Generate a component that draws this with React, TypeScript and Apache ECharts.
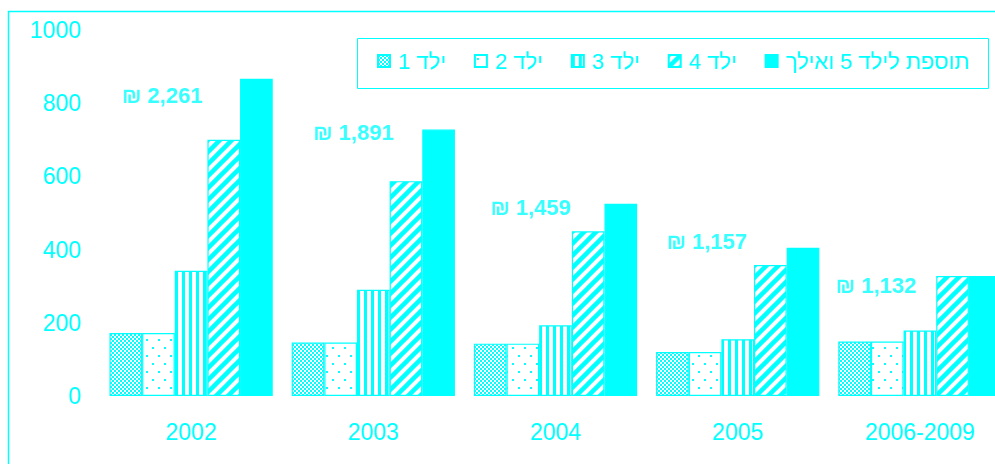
import React, { useEffect, useRef } from "react";
import * as echarts from "echarts";

const categories = ["2002", "2003", "2004", "2005", "2006-2009"];
const seriesNames = ["ילד 1", "ילד 2", "ילד 3", "ילד 4", "תוספת לילד 5 ואילך"];
const child1 = [172, 146, 143, 120, 149];
const child2 = [172, 146, 143, 120, 149];
const child3 = [342, 290, 193, 155, 179];
const child4 = [700, 587, 450, 358, 328];
const child5 = [867, 728, 525, 405, 328];
const totals = [2261, 1891, 1459, 1157, 1132];
// vertical anchor (in axis units) of the total annotations
const totalLabelLevel = [822, 719, 514, 423, 303];
// horizontal shift (px) of each total annotation from its category centre
const totalLabelShift = [-29, -20, -25, -31, -44];
const yTicks = { min: 0, max: 1000, interval: 200 };

const CYAN = "#00ffff";

function makeCanvas(w: number, h: number, draw: (c: CanvasRenderingContext2D) => void) {
  const cv = document.createElement("canvas");
  cv.width = w;
  cv.height = h;
  const ctx = cv.getContext("2d")!;
  ctx.fillStyle = "#ffffff";
  ctx.fillRect(0, 0, w, h);
  draw(ctx);
  return cv;
}

function patterns() {
  const checker = makeCanvas(4, 4, (c) => {
    c.fillStyle = CYAN;
    c.fillRect(0, 0, 2, 2);
    c.fillRect(2, 2, 2, 2);
  });
  const dots = makeCanvas(12, 16, (c) => {
    c.fillStyle = CYAN;
    c.fillRect(2, 3, 2, 2);
    c.fillRect(8, 11, 2, 2);
  });
  const vstripes = makeCanvas(7, 2, (c) => {
    c.fillStyle = CYAN;
    c.fillRect(0, 0, 3, 2);
  });
  const diag = makeCanvas(12, 12, (c) => {
    c.strokeStyle = CYAN;
    c.lineWidth = 4.5;
    for (let k = -12; k <= 12; k += 12) {
      c.beginPath();
      c.moveTo(k - 2, 14);
      c.lineTo(k + 14, -2);
      c.stroke();
    }
  });
  return [
    { image: checker, repeat: "repeat" },
    { image: dots, repeat: "repeat" },
    { image: vstripes, repeat: "repeat" },
    { image: diag, repeat: "repeat" },
    CYAN,
  ];
}

export default function App() {
  const ref = useRef<HTMLDivElement>(null);
  useEffect(() => {
    document.body.style.margin = "0";
    document.body.style.overflow = "hidden";
    const chart = echarts.init(ref.current!, null, { renderer: "svg" });
    const fills = patterns();
    const values = [child1, child2, child3, child4, child5];
    const barSeries = values.map((v, i) => ({
      name: seriesNames[i],
      type: "bar",
      data: v,
      barGap: "0%",
      barCategoryGap: "10.4%",
      itemStyle: {
        color: fills[i] as any,
        borderColor: CYAN,
        borderWidth: 1.2,
      },
    }));
    chart.setOption({
      animation: false,
      textStyle: { fontFamily: "Liberation Sans, Arial, sans-serif" },
      graphic: [
        {
          type: "rect",
          shape: { x: 8.5, y: 11.5, width: 1100, height: 600 },
          style: { fill: "none", stroke: CYAN, lineWidth: 1.5 },
          silent: true,
        },
        {
          type: "rect",
          shape: { x: 357.5, y: 38.5, width: 631, height: 50 },
          style: { fill: "none", stroke: CYAN, lineWidth: 1 },
          silent: true,
        },
      ],
      legend: {
        data: seriesNames,
        left: 377,
        top: 50,
        icon: "rect",
        itemWidth: 12,
        itemHeight: 12,
        itemGap: 28,
        padding: 0,
        textStyle: {
          color: CYAN,
          fontSize: 22,
          fontFamily: "Liberation Sans, Arial, sans-serif",
          padding: [0, 0, 0, 3],
        },
      },
      grid: { left: 100, width: 911, top: 30, bottom: 68, containLabel: false },
      xAxis: {
        type: "category",
        data: categories,
        axisLine: { show: false },
        axisTick: { show: false },
        axisLabel: { color: CYAN, fontSize: 23, margin: 24 },
      },
      yAxis: {
        type: "value",
        min: yTicks.min,
        max: yTicks.max,
        interval: yTicks.interval,
        splitLine: { show: false },
        axisLine: { show: false },
        axisTick: { show: false },
        axisLabel: { color: CYAN, fontSize: 23, margin: 19, formatter: (v: number) => String(v) },
      },
      series: [
        ...barSeries,
        {
          name: "totals",
          type: "scatter",
          symbolSize: 1,
          itemStyle: { color: "rgba(0,0,0,0)" },
          data: totalLabelLevel.map((v, i) => ({
            value: v,
            label: { offset: [totalLabelShift[i], 0] },
          })),
          label: {
            show: true,
            position: "inside",
            color: CYAN,
            fontSize: 22,
            fontWeight: "bold",
            formatter: (p: any) => "₪ " + totals[p.dataIndex].toLocaleString("en-US"),
          },
          z: 5,
        },
      ],
    } as any);
    return () => chart.dispose();
  }, []);
  return <div ref={ref} style={{ width: 1030, height: 464 }} />;
}
